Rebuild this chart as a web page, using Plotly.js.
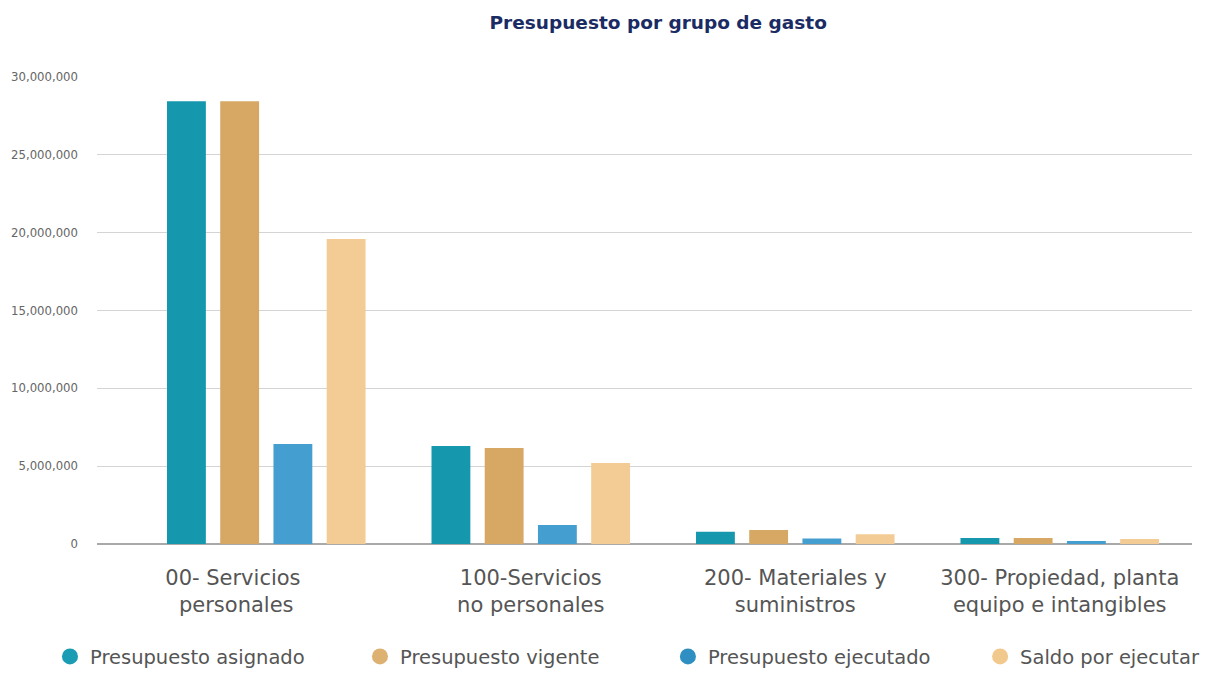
<!DOCTYPE html>
<html>
<head>
<meta charset="utf-8">
<script src="https://cdn.plot.ly/plotly-3.0.1.min.js"></script>
<style>html,body{margin:0;padding:0;background:#fff;}#chart{width:1210px;height:675px;}</style>
</head>
<body>
<div id="chart"></div>
<script>
const categories = [
  "00- Servicios personales",
  "100-Servicios no personales",
  "200- Materiales y suministros",
  "300- Propiedad, planta equipo e intangibles"
];
const tickLabels = [
  "00- Servicios\u00a0\u00a0\u00a0\u00a0\u00a0\u00a0\u00a0\u00a0\u00a0\u00a0<br>personales\u00a0\u00a0\u00a0\u00a0\u00a0\u00a0\u00a0\u00a0\u00a0",
  "100-Servicios<br>no personales",
  "200- Materiales y<br>suministros",
  "300- Propiedad, planta<br>equipo e intangibles"
];
const seriesNames = ["Presupuesto asignado", "Presupuesto vigente", "Presupuesto ejecutado", "Saldo por ejecutar"];
const asignado  = [28450000, 6300000, 790000, 390000];
const vigente   = [28450000, 6170000, 900000, 380000];
const ejecutado = [6420000, 1220000, 360000, 200000];
const saldo     = [19600000, 5200000, 620000, 320000];
const yTicks = [0, 5000000, 10000000, 15000000, 20000000, 25000000, 30000000];

const colors = ["#1598ae", "#d6a864", "#449fd0", "#f3cb95"];
const legendColors = ["#1a9cb4", "#ddb172", "#2f8fc3", "#f2c98c"];
const series = [asignado, vigente, ejecutado, saldo];
const legendIds = ["legend", "legend2", "legend3", "legend4"];
const legendX = [0.0413, 0.2975, 0.552, 0.81];
const FONT = "DejaVu Sans, sans-serif";

const traces = [];
series.forEach((vals, i) => {
  traces.push({
    type: "bar",
    x: categories,
    y: vals,
    name: seriesNames[i],
    marker: {color: colors[i]},
    showlegend: false,
    hoverinfo: "y"
  });
});
series.forEach((vals, i) => {
  traces.push({
    type: "scatter",
    mode: "markers",
    x: [null],
    y: [null],
    name: seriesNames[i],
    legend: legendIds[i],
    marker: {color: legendColors[i], size: 20, symbol: "circle"},
    showlegend: true,
    hoverinfo: "skip"
  });
});

const layout = {
  width: 1210,
  height: 675,
  paper_bgcolor: "#ffffff",
  plot_bgcolor: "#ffffff",
  margin: {l: 97, r: 18, t: 77, b: 131},
  font: {family: FONT, color: "#555555"},
  title: {
    text: "<b>Presupuesto por grupo de gasto</b>",
    font: {family: FONT, size: 18.5, color: "#1b2b63"},
    x: 0.544, xref: "container", xanchor: "center",
    y: 0.967, yref: "container", yanchor: "middle"
  },
  barmode: "group",
  bargap: 0.195,
  bargroupgap: 0.27,
  xaxis: {
    type: "category",
    range: [-0.64, 3.5],
    tickvals: categories,
    ticktext: tickLabels,
    showgrid: false,
    showline: false,
    zeroline: false,
    ticks: "",
    tickfont: {family: FONT, size: 21, color: "#555555"},
    ticklabelstandoff: 19
  },
  yaxis: {
    range: [0, 30000000],
    tickvals: yTicks,
    tickformat: ",",
    showgrid: true,
    gridcolor: "#d4d4d4",
    gridwidth: 1,
    zeroline: true,
    zerolinecolor: "#a9a9a9",
    zerolinewidth: 2,
    showline: false,
    ticks: "",
    tickfont: {family: FONT, size: 11.7, color: "#666666"},
    ticklabelstandoff: 18
  },
  showlegend: true
};
legendIds.forEach((id, i) => {
  layout[id] = {
    orientation: "h",
    xref: "container", yref: "container",
    x: legendX[i], xanchor: "left",
    y: 0.027, yanchor: "middle",
    font: {family: FONT, size: 19.5, color: "#555555"},
    itemsizing: "trace",
    bgcolor: "rgba(0,0,0,0)"
  };
});

Plotly.newPlot("chart", traces, layout, {displayModeBar: false, staticPlot: true});
</script>
</body>
</html>
